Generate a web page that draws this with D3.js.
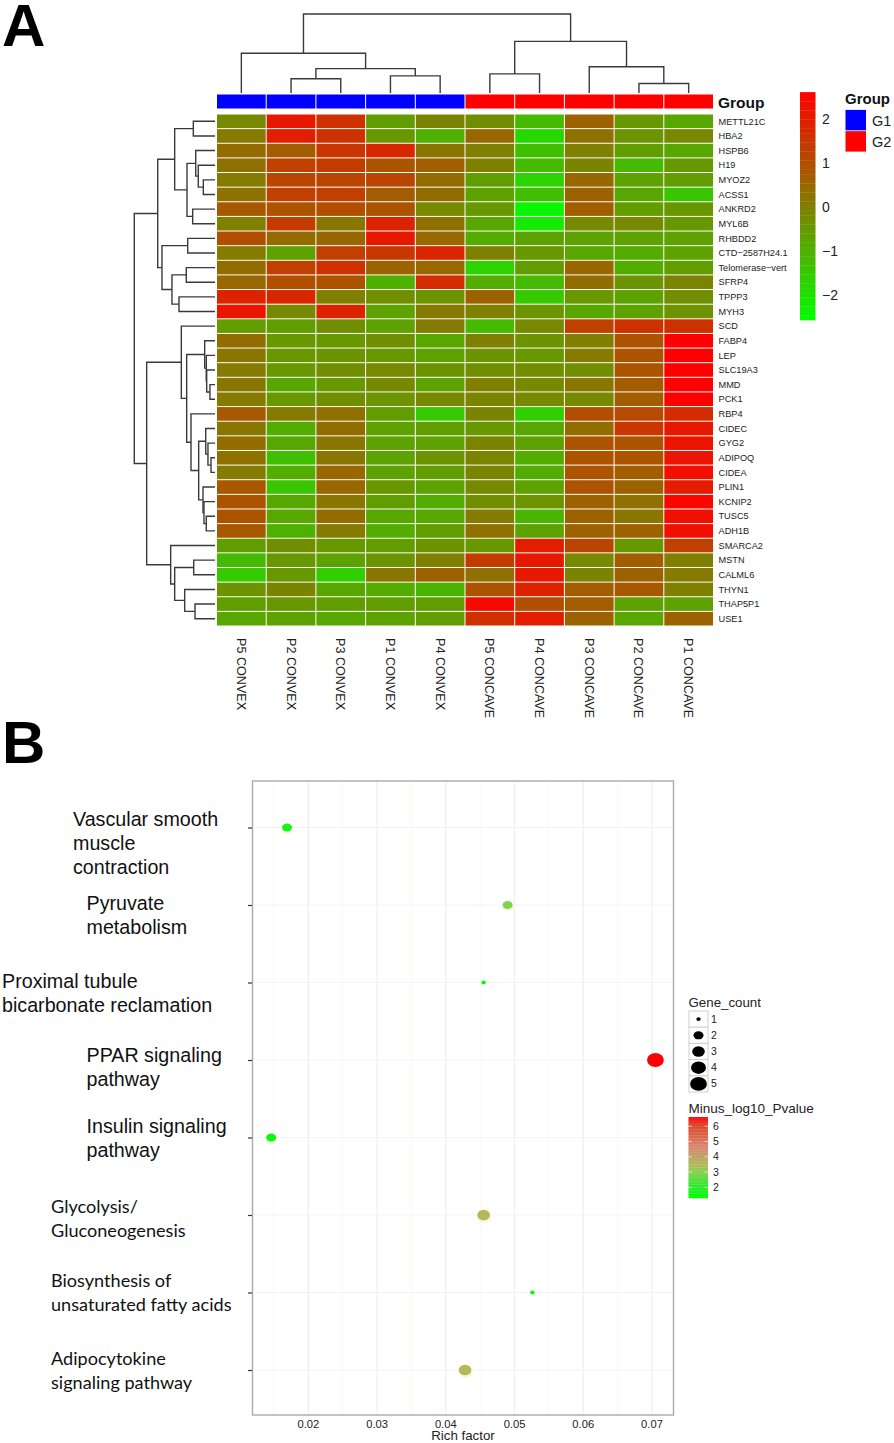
<!DOCTYPE html>
<html><head><meta charset="utf-8">
<script src="https://cdn.jsdelivr.net/npm/d3@7"></script>
<style>html,body{margin:0;padding:0;background:#fff}svg{display:block}text{font-family:"Liberation Sans",Arial,sans-serif;fill:#111}</style>
</head><body><div id="c"></div>
<script>
const samples=["P5 CONVEX","P2 CONVEX","P3 CONVEX","P1 CONVEX","P4 CONVEX","P5 CONCAVE","P4 CONCAVE","P3 CONCAVE","P2 CONCAVE","P1 CONCAVE"];
const groups=["G1","G1","G1","G1","G1","G2","G2","G2","G2","G2"];
const genes=["METTL21C","HBA2","HSPB6","H19","MYOZ2","ACSS1","ANKRD2","MYL6B","RHBDD2","CTD−2587H24.1","Telomerase−vert","SFRP4","TPPP3","MYH3","SCD","FABP4","LEP","SLC19A3","MMD","PCK1","RBP4","CIDEC","GYG2","ADIPOQ","CIDEA","PLIN1","KCNIP2","TUSC5","ADH1B","SMARCA2","MSTN","CALML6","THYN1","THAP5P1","USE1"];
const expression=[
[-0.2,2.1,1.6,-0.6,-0.1,-0.3,-1.2,0.6,-0.5,-0.8],
[0.1,2.0,1.6,-0.5,-1.0,0.5,-1.8,0.3,-0.4,-0.2],
[0.4,0.7,1.5,1.8,0.2,0.0,-1.3,0.0,-0.6,-0.8],
[0.3,1.3,1.4,0.9,0.7,0.0,-1.2,-0.1,-1.2,-0.5],
[0.1,1.2,1.2,1.2,0.4,-0.6,-1.7,0.5,-0.7,-0.6],
[0.3,1.3,1.3,0.7,0.4,-0.7,-1.3,0.6,-0.8,-1.4],
[0.8,0.9,1.0,0.9,-0.2,-0.5,-2.4,0.7,-0.6,-0.5],
[0.0,1.4,0.2,1.9,0.3,-0.8,-2.2,-0.2,-0.2,-0.5],
[1.0,0.4,0.5,2.1,0.5,-0.9,-0.7,-0.7,-0.7,-0.7],
[0.1,-0.7,1.3,1.5,1.8,0.0,-0.5,-0.8,-0.9,-0.7],
[0.4,1.3,1.6,0.6,0.5,-1.7,-0.6,0.5,-0.9,-0.6],
[0.5,1.0,0.9,-1.0,1.7,-0.9,-1.2,0.4,-0.4,-0.1],
[1.9,1.8,0.0,-0.3,-0.4,0.6,-1.5,-0.5,-0.7,-0.3],
[2.2,-0.2,1.9,-0.7,0.1,0.0,-0.4,-0.8,-0.7,-0.4],
[-0.6,-0.6,-0.3,-0.7,0.1,-1.2,-0.2,1.3,1.6,1.6],
[0.4,-0.5,-0.5,-0.3,-0.8,0.0,-0.4,0.0,0.9,2.6],
[0.2,-0.5,-0.4,-0.5,-0.7,-0.4,-0.5,0.1,0.9,2.6],
[0.1,-0.5,-0.3,-0.2,-0.4,-0.3,-0.3,-0.3,0.9,2.6],
[0.2,-0.8,-0.5,-0.2,-0.7,0.0,-0.2,0.2,0.7,2.6],
[0.1,-0.5,-0.3,-0.4,-0.2,-0.1,-0.2,-0.2,0.7,2.6],
[0.8,0.1,0.3,-0.6,-1.5,-0.1,-1.6,1.0,1.1,1.7],
[0.2,-0.9,0.4,-0.7,-0.6,-0.5,-0.8,0.4,1.5,2.1],
[0.4,-0.8,0.2,-0.7,-0.7,-0.1,-0.7,0.9,0.9,2.2],
[0.3,-1.3,0.2,-0.7,-0.4,-0.1,-0.9,0.9,0.9,2.2],
[0.1,-0.9,0.5,-0.7,-0.6,-0.1,-0.9,0.9,0.7,2.3],
[0.8,-1.4,0.5,-0.5,-0.7,-0.2,-0.7,0.9,0.6,2.0],
[0.9,-0.8,0.2,-0.6,-0.9,-0.3,-0.4,0.6,0.3,2.5],
[0.9,-0.8,0.4,-0.8,-0.8,0.1,-1.1,0.6,0.2,2.3],
[0.8,-1.0,0.1,-0.9,-0.6,0.3,-0.7,0.6,0.6,2.3],
[-0.6,-0.3,-0.5,-0.6,-0.4,-0.5,2.0,1.2,-0.5,1.3],
[-1.2,-0.5,-0.7,-0.4,0.0,1.4,2.1,-0.2,0.7,0.0],
[-1.5,-0.5,-1.6,0.2,0.6,0.3,2.1,-0.1,0.6,0.1],
[-0.4,-0.1,-0.8,-0.9,-1.1,0.9,1.9,0.7,0.8,0.0],
[-0.6,-0.5,-0.6,-0.6,-0.6,2.4,1.0,0.7,-0.7,-0.7],
[-0.8,-0.7,-0.8,-0.7,-0.6,1.6,2.0,0.6,-0.8,0.6]];
// dendrograms: [height, left, right]; numbers are leaf indexes
const colTree=[9.94,[5.0,0,[3.06,[1.8,1,2],[2.16,3,4]]],[6.5,[2.4,5,6],[3.3,7,[1.2,8,9]]]];
const rowTree=[10.09,
 [7.16,[5.04,[2.71,0,1],[3.5,[2.41,2,[2.09,3,[1.46,4,5]]],[2.79,6,7]]],
       [6.63,[3.41,8,9],[5.38,[3.59,10,11],[4.5,12,13]]]],
 [8.54,[4.21,14,[3.54,[1.29,15,[1.09,16,[1.04,17,[0.63,18,19]]]],
        [3.0,20,[2.04,[1.16,21,[0.88,22,[0.5,23,24]]],[1.5,25,[1.38,26,[1.09,27,28]]]]]]],
       [5.54,29,[5.04,[2.66,30,31],[3.79,32,[2.5,33,34]]]]]];
const pathways=[["Vascular smooth","muscle","contraction"],["Pyruvate","metabolism"],["Proximal tubule","bicarbonate reclamation"],["PPAR signaling","pathway"],["Insulin signaling","pathway"],["Glycolysis/","Gluconeogenesis"],["Biosynthesis of","unsaturated fatty acids"],["Adipocytokine","signaling pathway"]];
const richFactor=[0.0169,0.049,0.0455,0.0705,0.0146,0.0455,0.0526,0.0428];
const geneCount=[2,2,1,5,2,3,1,3];
const minusLogP=[1.7,2.9,1.4,6.6,1.5,3.5,1.4,3.5];
const heatTicks=[2,1,0,-1,-2];
const richTicks=[0.02,0.03,0.04,0.05,0.06,0.07];
const richMinor=[0.015,0.025,0.035,0.045,0.055,0.065];
const countLevels=[1,2,3,4,5];
const pTicks=[6,5,4,3,2];

const svg=d3.select("#c").append("svg").attr("width",894).attr("height",1443);
const big=(t,y)=>svg.append("text").attr("x",2).attr("y",y).attr("font-size",60).attr("font-weight",700).style("fill","#000").text(t);
big("A",46);big("B",763);

/* ---------- A: heatmap ---------- */
const x=d3.scaleBand().domain(d3.range(samples.length)).range([216.5,713.5]);
const y=d3.scaleBand().domain(d3.range(genes.length)).range([114,626]);
const heat=d3.scaleLinear().domain([-2.6,2.6]).range(["#00ff00","#ff0000"]).clamp(true);
const groupColor=d3.scaleOrdinal(["G1","G2"],["#0000ff","#ff0000"]);

const A=svg.append("g");
expression.forEach((row,i)=>{
  A.append("g").selectAll("rect").data(row).join("rect")
   .attr("x",(d,j)=>x(j)+0.5).attr("y",y(i)+0.5)
   .attr("width",x.bandwidth()-1).attr("height",y.bandwidth()-1)
   .attr("fill",d=>heat(d));
});
A.append("g").selectAll("rect").data(groups).join("rect")
 .attr("x",(d,j)=>x(j)+0.5).attr("y",94.5).attr("width",x.bandwidth()-1).attr("height",14).attr("fill",d=>groupColor(d));
A.append("text").attr("x",718).attr("y",108).attr("font-size",15.5).attr("font-weight",700).text("Group");

A.append("g").selectAll("text").data(genes).join("text")
 .attr("x",718.5).attr("y",(d,i)=>y(i)+y.bandwidth()/2+3.2).attr("font-size",9.2).style("fill","#222").text(d=>d);
A.append("g").selectAll("text").data(samples).join("text")
 .attr("transform",(d,j)=>`translate(${x(j)+x.bandwidth()/2-4.5},638) rotate(90)`)
 .attr("font-size",12.6).style("fill","#222").text(d=>d);

function drawTree(tree,leafPos,hScale,vertical){
  const g=svg.append("g").attr("fill","none").attr("stroke","#3a3a3e").attr("stroke-width",1.4);
  function walk(n){
    if(typeof n==="number") return {p:leafPos(n),h:0};
    const a=walk(n[1]),b=walk(n[2]),H=hScale(n[0]);
    const A_=hScale(a.h),B_=hScale(b.h);
    const d=vertical
      ?`M${a.p},${A_}V${H}H${b.p}V${B_}`
      :`M${A_},${a.p}H${H}V${b.p}H${B_}`;
    g.append("path").attr("d",d);
    return {p:(a.p+b.p)/2,h:n[0]};
  }
  walk(tree);
}
drawTree(colTree,j=>x(j)+x.bandwidth()/2,d3.scaleLinear([0,10],[93,13.5]),true);
drawTree(rowTree,i=>y(i)+y.bandwidth()/2,d3.scaleLinear([0,10],[215,135]),false);

// colour bar
const barY=d3.scaleLinear().domain([-2.58,2.6]).range([320,93]);
const steps=d3.range(-2.58,2.6,0.104);
A.append("g").selectAll("rect").data(steps).join("rect")
 .attr("x",800).attr("width",15.5).attr("y",d=>barY(d+0.104)).attr("height",d=>barY(d)-barY(d+0.104)+0.3).attr("fill",d=>heat(d+0.05));
A.append("g").selectAll("text").data(heatTicks).join("text")
 .attr("x",822).attr("y",d=>barY(d)+5).attr("font-size",14).style("fill","#222")
 .text(d=>d<0?"−"+(-d):d);
A.append("text").attr("x",845).attr("y",104).attr("font-size",15).attr("font-weight",700).text("Group");
const lg=d3.scaleBand().domain(["G1","G2"]).range([109.5,152]);
A.append("g").selectAll("rect").data(lg.domain()).join("rect")
 .attr("x",845.5).attr("y",d=>lg(d)+0.4).attr("width",20.5).attr("height",lg.bandwidth()-0.8).attr("fill",d=>groupColor(d));
A.append("g").selectAll("text").data(lg.domain()).join("text")
 .attr("x",872).attr("y",d=>lg(d)+16.5).attr("font-size",14.5).style("fill","#222").text(d=>d);

/* ---------- B: bubble plot ---------- */
const px=d3.scaleLinear().domain([0.01188,0.07313]).range([252.5,673.5]);
const py=d3.scalePoint().domain(d3.range(pathways.length)).range([827.5,1370]);
const PT=781,PB=1415;
const B=svg.append("g");
// grid
B.append("g").selectAll("line").data(richMinor).join("line")
 .attr("x1",d=>px(d)).attr("x2",d=>px(d)).attr("y1",PT).attr("y2",PB).attr("stroke","#fbfbee").attr("stroke-width",1);
B.append("g").selectAll("line").data(richTicks).join("line")
 .attr("x1",d=>px(d)).attr("x2",d=>px(d)).attr("y1",PT).attr("y2",PB).attr("stroke","#eeeef6").attr("stroke-width",1.2);
B.append("g").selectAll("line").data(py.domain()).join("line")
 .attr("x1",252.5).attr("x2",673.5).attr("y1",d=>py(d)).attr("y2",d=>py(d)).attr("stroke","#f3f3f8").attr("stroke-width",1.2);

const rx=d3.scaleOrdinal(countLevels,[2.2,5,6.3,7.5,8.4]);
const ry=d3.scaleOrdinal(countLevels,[1.9,4,5.2,6.2,6.9]);
const pColor=d3.scaleLinear().domain([1.3,2,3,3.5,4,4.6,5,6,6.6])
 .range(["#00ff00","#2ce82c","#88d050","#b5b85a","#bca062","#dc8674","#dc7658","#d84a30","#ff0000"]);
const rows=pathways.map((p,i)=>({i,r:richFactor[i],n:geneCount[i],v:minusLogP[i]}));
// soft halo that surrounds the dots in the original
B.append("g").selectAll("ellipse").data(rows.filter(d=>d.n>1&&d.n<5)).join("ellipse")
 .attr("cx",d=>px(d.r)+0.5).attr("cy",d=>py(d.i)+1.5).attr("rx",d=>rx(d.n)+1).attr("ry",d=>ry(d.n)+1).attr("fill","#f3f8dc");
B.append("g").selectAll("ellipse").data(rows).join("ellipse")
 .attr("cx",d=>px(d.r)).attr("cy",d=>py(d.i)).attr("rx",d=>rx(d.n)).attr("ry",d=>ry(d.n)).attr("fill",d=>pColor(d.v));

B.append("rect").attr("x",252.5).attr("y",PT).attr("width",421).attr("height",PB-PT).attr("fill","none").attr("stroke","#a9a9b0").attr("stroke-width",1.4);
const yAxis=d3.axisLeft(py).tickSize(4).tickFormat("");
B.append("g").attr("transform","translate(252,0)").call(yAxis).call(g=>{g.select(".domain").remove();g.selectAll("line").attr("stroke","#333").attr("stroke-width",1.2);});
const xAxis=d3.axisBottom(px).tickValues(richTicks).tickSize(0).tickPadding(0).tickFormat(d3.format(".2f"));
B.append("g").attr("transform",`translate(-0.5,${PB+5})`).call(xAxis).call(g=>{g.select(".domain").remove();g.selectAll("text").attr("font-size",11.2).attr("font-family","Liberation Sans").style("fill","#222");});
B.append("text").attr("x",463).attr("y",1440).attr("text-anchor","middle").attr("font-size",13.3).style("fill","#222").text("Rich factor");

// pathway labels (two fonts, as in the original)
const labelX=d3.scaleOrdinal(d3.range(8),[73,86.5,2,86.5,86.5,51,51,51]);
const labelDy=d3.scaleOrdinal(d3.range(8),[-1.5,5,5,2,-4.5,-2,-6,-5]);
pathways.forEach((lines,i)=>{
  const cal=i>=5;
  B.append("g").selectAll("text").data(lines).join("text")
   .attr("x",labelX(i)).attr("y",(d,k)=>py(i)+labelDy(i)+k*24)
   .attr("font-size",cal?18.1:19.7)
   .style("font-family",cal?"Lato,'Open Sans',sans-serif":null)
   .text(d=>d);
});

// Gene_count legend
B.append("text").attr("x",688.5).attr("y",1007).attr("font-size",13.3).style("fill","#222").text("Gene_count");
const cellY=d3.scaleBand().domain(countLevels).range([1011,1092]);
const cell=B.append("g").selectAll("g").data(countLevels).join("g").attr("transform",d=>`translate(0,${cellY(d)})`);
cell.append("rect").attr("x",689).attr("width",19).attr("height",cellY.bandwidth()).attr("fill","#fff").attr("stroke","#d0d0d0").attr("stroke-width",1);
cell.append("ellipse").attr("cx",698.5).attr("cy",cellY.bandwidth()/2).attr("rx",d=>rx(d)).attr("ry",d=>ry(d)).attr("fill","#000");
cell.append("text").attr("x",711).attr("y",cellY.bandwidth()/2+3.5).attr("font-size",10.5).style("fill","#222").text(d=>d);

// p-value legend
B.append("text").attr("x",688.5).attr("y",1113).attr("font-size",13.5).style("fill","#222").text("Minus_log10_Pvalue");
const pY=d3.scaleLinear().domain([1.3,6.6]).range([1198,1117]);
B.append("g").selectAll("rect").data(d3.range(1.3,6.6,0.1)).join("rect")
 .attr("x",688.5).attr("width",19.5).attr("y",d=>pY(d+0.1)).attr("height",d=>pY(d)-pY(d+0.1)+0.3).attr("fill",d=>pColor(d));
B.append("g").selectAll("line").data(pTicks).join("line")
 .attr("x1",688.5).attr("x2",692).attr("y1",d=>pY(d)).attr("y2",d=>pY(d)).attr("stroke","#fff").attr("stroke-opacity",.6);
B.append("g").selectAll("line").data(pTicks).join("line")
 .attr("x1",704.5).attr("x2",708).attr("y1",d=>pY(d)).attr("y2",d=>pY(d)).attr("stroke","#fff").attr("stroke-opacity",.6);
B.append("g").selectAll("text").data(pTicks).join("text")
 .attr("x",713).attr("y",d=>pY(d)+3.5).attr("font-size",10.5).style("fill","#222").text(d=>d);
</script></body></html>
